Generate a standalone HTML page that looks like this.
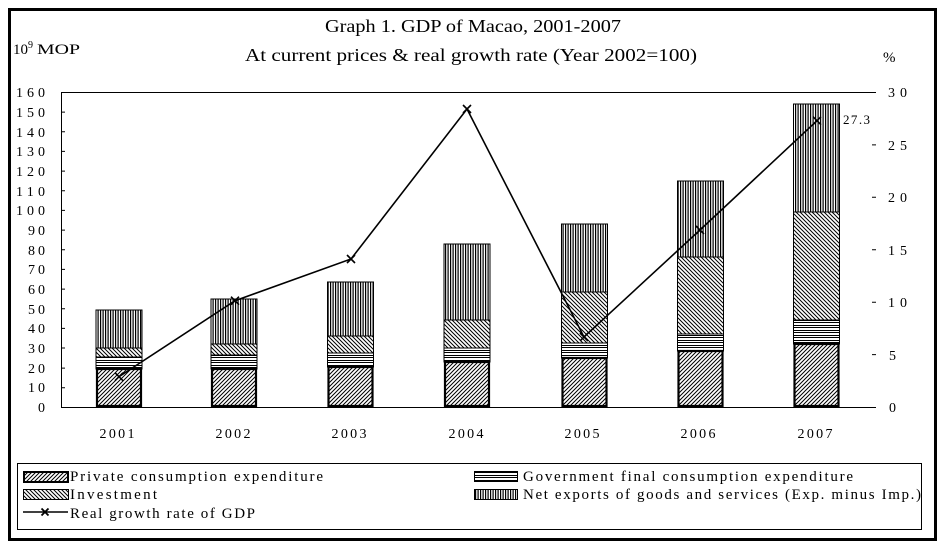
<!DOCTYPE html>
<html>
<head>
<meta charset="utf-8">
<style>
  html,body{margin:0;padding:0;background:#fff;}
  svg{display:block;}
  text{font-family:"Liberation Serif","Times New Roman",serif;fill:#000;}
</style>
</head>
<body>
<svg width="946" height="548" viewBox="0 0 946 548" xmlns="http://www.w3.org/2000/svg">
  <defs>
    <pattern id="priv" patternUnits="userSpaceOnUse" width="4" height="4">
      <rect width="4" height="4" fill="#fff"/>
      <path d="M0,4 L4,0 M-1,1 L1,-1 M3,5 L5,3" stroke="#000" stroke-width="1"/>
    </pattern>
    <pattern id="inv" patternUnits="userSpaceOnUse" width="4" height="4">
      <rect width="4" height="4" fill="#fff"/>
      <path d="M0,0 L4,4 M-1,3 L1,5 M3,-1 L5,1" stroke="#000" stroke-width="1"/>
    </pattern>
    <pattern id="gov" patternUnits="userSpaceOnUse" width="4" height="5">
      <rect width="4" height="5" fill="#fff"/>
      <rect x="0" y="0" width="4" height="1" fill="#000"/>
      <rect x="0" y="2" width="4" height="1" fill="#000"/>
    </pattern>
    <pattern id="net" patternUnits="userSpaceOnUse" width="5" height="4">
      <rect width="5" height="4" fill="#fff"/>
      <rect x="0" y="0" width="1.2" height="4" fill="#000"/>
      <rect x="2.5" y="0" width="1.2" height="4" fill="#000"/>
    </pattern>
  </defs>

  <!-- outer border -->
  <rect x="9.5" y="9.5" width="926" height="530" fill="none" stroke="#000" stroke-width="3"/>

  <!-- titles -->
  <text x="325" y="32" font-size="18" textLength="296" lengthAdjust="spacingAndGlyphs">Graph 1. GDP of Macao, 2001-2007</text>
  <text x="245" y="61" font-size="18" textLength="452" lengthAdjust="spacingAndGlyphs">At current prices &amp; real growth rate (Year 2002=100)</text>

  <!-- axis unit labels -->
  <text x="13" y="54" font-size="15" textLength="15" lengthAdjust="spacingAndGlyphs">10</text>
  <text x="28" y="48" font-size="10">9</text>
  <text x="37" y="54" font-size="15" textLength="43" lengthAdjust="spacingAndGlyphs">MOP</text>
  <text x="883" y="62" font-size="15">%</text>

  <!-- plot frame -->
  <path d="M876,92.5 H61.5 V407.5 H876" fill="none" stroke="#000" stroke-width="1"/>

  <!-- left ticks and labels -->
  <g stroke="#000" stroke-width="1">
    <path d="M61,387.8H65 M61,368.1H65 M61,348.0H65 M61,328.4H65 M61,308.7H65 M61,289.1H65 M61,269.4H65 M61,249.8H65 M61,230.1H65 M61,210.4H65 M61,190.8H65 M61,171.1H65 M61,151.4H65 M61,131.8H65 M61,112.1H65"/>
  </g>
  <g font-size="14" text-anchor="end">
    <text x="45" y="412">0</text>
    <text x="45" y="392" textLength="17" lengthAdjust="spacing">10</text>
    <text x="45" y="373" textLength="17" lengthAdjust="spacing">20</text>
    <text x="45" y="353" textLength="17" lengthAdjust="spacing">30</text>
    <text x="45" y="333" textLength="17" lengthAdjust="spacing">40</text>
    <text x="45" y="314" textLength="17" lengthAdjust="spacing">50</text>
    <text x="45" y="294" textLength="17" lengthAdjust="spacing">60</text>
    <text x="45" y="274" textLength="17" lengthAdjust="spacing">70</text>
    <text x="45" y="255" textLength="17" lengthAdjust="spacing">80</text>
    <text x="45" y="235" textLength="17" lengthAdjust="spacing">90</text>
    <text x="45" y="215" textLength="29" lengthAdjust="spacing">100</text>
    <text x="45" y="196" textLength="29" lengthAdjust="spacing">110</text>
    <text x="45" y="176" textLength="29" lengthAdjust="spacing">120</text>
    <text x="45" y="156" textLength="29" lengthAdjust="spacing">130</text>
    <text x="45" y="137" textLength="29" lengthAdjust="spacing">140</text>
    <text x="45" y="117" textLength="29" lengthAdjust="spacing">150</text>
    <text x="45" y="97" textLength="29" lengthAdjust="spacing">160</text>
  </g>

  <!-- right ticks and labels -->
  <g stroke="#000" stroke-width="1">
    <path d="M872,354.6H876 M872,302.2H876 M872,249.8H876 M872,197.3H876 M872,144.9H876"/>
  </g>
  <g font-size="14">
    <text x="889" y="412">0</text>
    <text x="889" y="360">5</text>
    <text x="888" y="307" textLength="19" lengthAdjust="spacing">10</text>
    <text x="888" y="255" textLength="19" lengthAdjust="spacing">15</text>
    <text x="888" y="202" textLength="19" lengthAdjust="spacing">20</text>
    <text x="888" y="150" textLength="19" lengthAdjust="spacing">25</text>
    <text x="888" y="97" textLength="19" lengthAdjust="spacing">30</text>
  </g>

  <!-- bars -->
  <g stroke="#000" stroke-width="1">
    <rect x="96" y="310" width="46" height="38" fill="url(#net)"/>
    <rect x="96" y="348" width="46" height="9" fill="url(#inv)"/>
    <rect x="96" y="357" width="46" height="12" fill="url(#gov)"/>
    <rect x="211" y="299" width="46" height="45" fill="url(#net)"/>
    <rect x="211" y="344" width="46" height="11" fill="url(#inv)"/>
    <rect x="211" y="355" width="46" height="14" fill="url(#gov)"/>
    <rect x="327.5" y="282" width="46" height="54" fill="url(#net)"/>
    <rect x="327.5" y="336" width="46" height="17" fill="url(#inv)"/>
    <rect x="327.5" y="353" width="46" height="14" fill="url(#gov)"/>
    <rect x="444" y="244" width="46" height="76" fill="url(#net)"/>
    <rect x="444" y="320" width="46" height="28" fill="url(#inv)"/>
    <rect x="444" y="348" width="46" height="14" fill="url(#gov)"/>
    <rect x="561.5" y="224" width="46" height="68" fill="url(#net)"/>
    <rect x="561.5" y="292" width="46" height="51" fill="url(#inv)"/>
    <rect x="561.5" y="343" width="46" height="15" fill="url(#gov)"/>
    <rect x="677.5" y="181" width="46" height="76" fill="url(#net)"/>
    <rect x="677.5" y="257" width="46" height="77" fill="url(#inv)"/>
    <rect x="677.5" y="334" width="46" height="17" fill="url(#gov)"/>
    <rect x="793.5" y="104" width="46" height="108" fill="url(#net)"/>
    <rect x="793.5" y="212" width="46" height="108" fill="url(#inv)"/>
    <rect x="793.5" y="320" width="46" height="24" fill="url(#gov)"/>
  </g>
  <g stroke="#000" stroke-width="2.2">
    <rect x="97" y="369" width="44" height="37" fill="url(#priv)"/>
    <rect x="212" y="369" width="44" height="37" fill="url(#priv)"/>
    <rect x="328.5" y="367" width="44" height="39" fill="url(#priv)"/>
    <rect x="445" y="362" width="44" height="44" fill="url(#priv)"/>
    <rect x="562.5" y="358" width="44" height="48" fill="url(#priv)"/>
    <rect x="678.5" y="351" width="44" height="55" fill="url(#priv)"/>
    <rect x="794.5" y="344" width="44" height="62" fill="url(#priv)"/>
  </g>
  <path d="M61,407.5H876" stroke="#000" stroke-width="1"/>

  <!-- growth line -->
  <polyline points="119,376.7 235,300.7 351,259 467,109 584,337 700,230 817,120.7" fill="none" stroke="#000" stroke-width="1.6"/>
  <g stroke="#000" stroke-width="1.6">
    <path d="M115,372.7l8,8 M123,372.7l-8,8"/>
    <path d="M231,296.7l8,8 M239,296.7l-8,8"/>
    <path d="M347,255l8,8 M355,255l-8,8"/>
    <path d="M463,105l8,8 M471,105l-8,8"/>
    <path d="M580,333l8,8 M588,333l-8,8"/>
    <path d="M696,226l8,8 M704,226l-8,8"/>
    <path d="M813,116.7l8,8 M821,116.7l-8,8"/>
  </g>
  <text x="843" y="124" font-size="13" textLength="27" lengthAdjust="spacing">27.3</text>

  <!-- x labels -->
  <g font-size="14" text-anchor="middle">
    <text x="117" y="438" textLength="35" lengthAdjust="spacing">2001</text>
    <text x="233" y="438" textLength="35" lengthAdjust="spacing">2002</text>
    <text x="349" y="438" textLength="35" lengthAdjust="spacing">2003</text>
    <text x="466" y="438" textLength="35" lengthAdjust="spacing">2004</text>
    <text x="582" y="438" textLength="35" lengthAdjust="spacing">2005</text>
    <text x="698" y="438" textLength="35" lengthAdjust="spacing">2006</text>
    <text x="815" y="438" textLength="35" lengthAdjust="spacing">2007</text>
  </g>

  <!-- legend -->
  <rect x="17.5" y="463.5" width="904" height="66" fill="none" stroke="#000" stroke-width="1"/>
  <rect x="24" y="472" width="44" height="10" fill="url(#priv)" stroke="#000" stroke-width="2"/>
  <rect x="23.5" y="489.5" width="45" height="10" fill="url(#inv)" stroke="#000" stroke-width="1"/>
  <path d="M23,512H68" stroke="#000" stroke-width="1.6"/>
  <path d="M41.5,508.5l7,7 M48.5,508.5l-7,7" stroke="#000" stroke-width="1.8"/>
  <rect x="474.5" y="471.5" width="43" height="10" fill="url(#gov)" stroke="#000" stroke-width="1"/>
  <rect x="474.5" y="489.5" width="43" height="10" fill="url(#net)" stroke="#000" stroke-width="1"/>
  <g font-size="15">
    <text x="70" y="481" textLength="253" lengthAdjust="spacing">Private consumption expenditure</text>
    <text x="70" y="499" textLength="87" lengthAdjust="spacing">Investment</text>
    <text x="70" y="518" textLength="185" lengthAdjust="spacing">Real growth rate of GDP</text>
    <text x="523" y="481" textLength="330" lengthAdjust="spacing">Government final consumption expenditure</text>
    <text x="523" y="499" textLength="398" lengthAdjust="spacing">Net exports of goods and services (Exp. minus Imp.)</text>
  </g>
</svg>
</body>
</html>
